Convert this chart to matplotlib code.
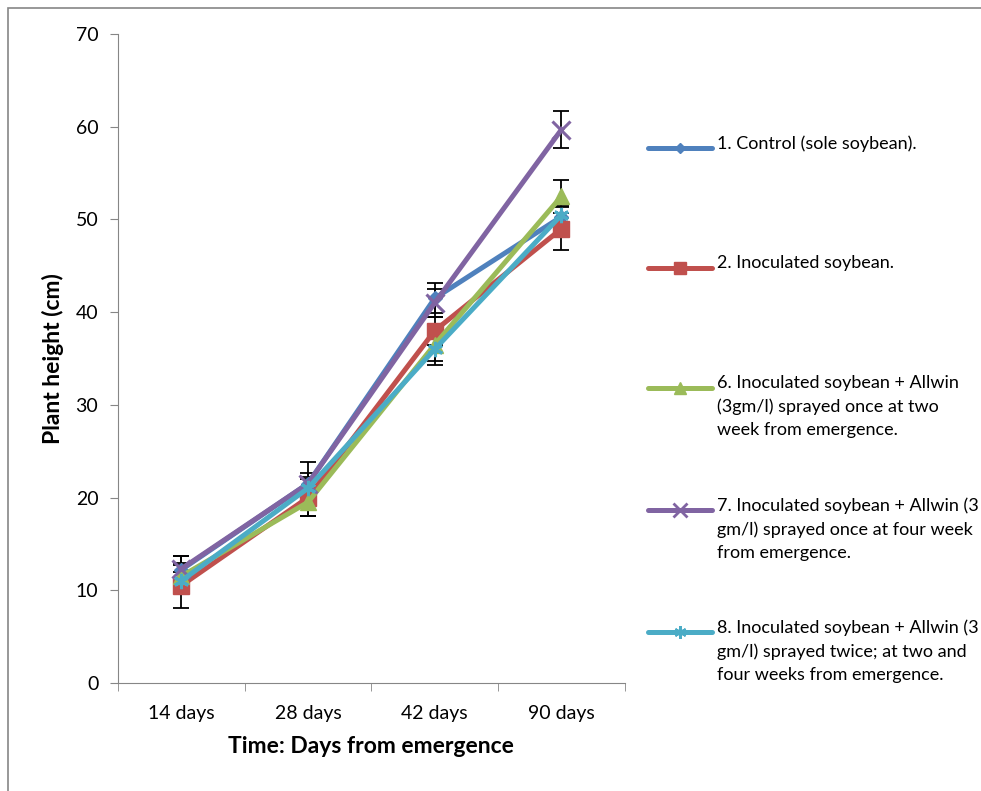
import matplotlib.pyplot as plt
from matplotlib.lines import Line2D
from matplotlib.patches import Rectangle

plt.rcParams['font.family'] = ['Lato', 'DejaVu Sans']

dias = ['14 days', '28 days', '42 days', '90 days']

control = [12.2, 21.5, 41.5, 50.3]
inoculado = [10.5, 20.0, 38.0, 49.0]
allwin_dos = [11.5, 19.5, 36.5, 52.5]
allwin_cuatro = [12.3, 21.5, 41.0, 59.7]
allwin_doble = [11.0, 21.0, 36.0, 50.5]

err_control = [1.5, 1.1, 1.6, 1.2]
err_inoculado = [2.4, 2.0, 1.5, 2.3]
err_allwin_dos = [1.2, 1.5, 1.8, 1.8]
err_allwin_cuatro = [1.4, 2.3, 1.5, 2.0]
err_allwin_doble = [1.0, 1.2, 1.7, 1.2]

etiquetas = [
    '1. Control (sole soybean).',
    '2. Inoculated soybean.',
    '6. Inoculated soybean + Allwin\n(3gm/l) sprayed once at two\nweek from emergence.',
    '7. Inoculated soybean + Allwin (3\ngm/l) sprayed once at four week\nfrom emergence.',
    '8. Inoculated soybean + Allwin (3\ngm/l) sprayed twice; at two and\nfour weeks from emergence.',
]

series = [control, inoculado, allwin_dos, allwin_cuatro, allwin_doble]
errores = [err_control, err_inoculado, err_allwin_dos, err_allwin_cuatro, err_allwin_doble]
colores = ['#4F81BD', '#C0504D', '#9BBB59', '#8064A2', '#4BACC6']
marcadores = ['D', 's', '^', 'x', (6, 2, 0)]
tamanos = [7, 11, 11, 13, 11]

fig = plt.figure(figsize=(9.81, 7.91), dpi=100)
ax = fig.add_axes([0.120, 0.1365, 0.517, 0.8205])

x = list(range(len(dias)))
for i, (y, e) in enumerate(zip(series, errores)):
    ax.errorbar(x, y, yerr=e, fmt='none', ecolor='black', elinewidth=1.3,
                capsize=6, capthick=1.3, zorder=2)
for i, y in enumerate(series):
    ax.plot(x, y, color=colores[i], lw=3.6, marker=marcadores[i],
            markersize=tamanos[i], mew=2.2 if i >= 3 else 1,
            mec=colores[i], zorder=3 + i)

ax.set_xlim(-0.5, 3.5)
ax.set_ylim(0, 70)
ax.set_yticks(range(0, 71, 10))
ax.set_xticks(x)
ax.set_xticklabels(dias)
ax.set_xticks([-0.5, 0.5, 1.5, 2.5, 3.5], minor=True)
ax.tick_params(axis='x', which='major', length=0, labelsize=14, pad=16)
ax.tick_params(axis='x', which='minor', length=6, direction='out', color='#868686')
ax.tick_params(axis='y', length=6, direction='out', color='#868686', labelsize=14, pad=8)
for lado in ['top', 'right']:
    ax.spines[lado].set_visible(False)
for lado in ['left', 'bottom']:
    ax.spines[lado].set_color('#868686')

ax.set_ylabel('Plant height (cm)', fontsize=16.5, fontweight='bold', labelpad=8)
ax.set_xlabel('Time: Days from emergence', fontsize=16.5, fontweight='bold', labelpad=10)

# leyenda manual a la derecha
W, H = 981, 791
ys_ley = [148, 268, 388, 510, 632]
for i, yp in enumerate(ys_ley):
    yf = 1 - yp / H
    fig.add_artist(Line2D([648 / W, 712 / W], [yf, yf], color=colores[i], lw=3.6,
                          solid_capstyle='round'))
    fig.add_artist(Line2D([680 / W], [yf], color=colores[i], marker=marcadores[i],
                          markersize=tamanos[i] * 0.8, mew=2 if i >= 3 else 1,
                          mec=colores[i]))
    fig.text(717 / W, yf + 13 / H, etiquetas[i], fontsize=13, va='top', ha='left',
             linespacing=1.55)

# borde exterior
fig.add_artist(Rectangle((8 / W, -0.01), 1.1, 1.0, transform=fig.transFigure,
                         fill=False, edgecolor='#868686', lw=1.2))

plt.savefig('out.png', dpi=100)
